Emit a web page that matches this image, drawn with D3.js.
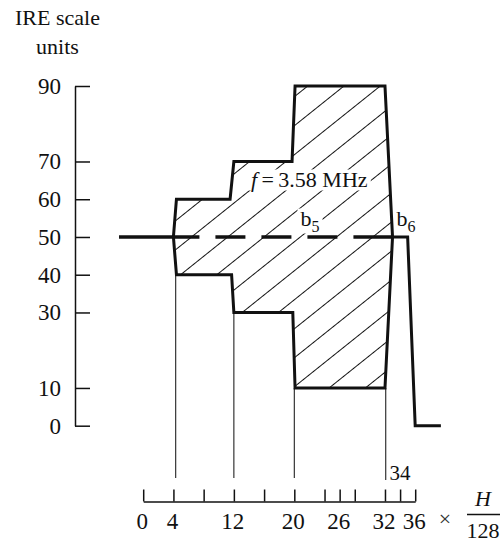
<!DOCTYPE html>
<html>
<head>
<meta charset="utf-8">
<script src="https://cdn.jsdelivr.net/npm/d3@7"></script>
<style>
  html, body { margin: 0; padding: 0; background: #fff; }
  svg { display: block; font-family: "Liberation Serif", "Times New Roman", serif; }
</style>
</head>
<body>
<svg id="chart" width="503" height="543"></svg>
<script>
// Horizontal position in units of H/128, vertical level in IRE units
const xTicks = [0, 4, 8, 12, 16, 20, 24, 26, 28, 32, 34, 36];
const xLabelled = [0, 4, 12, 20, 26, 32, 36];
const yTicks = [0, 10, 30, 40, 50, 60, 70, 90];

// Envelope of the 3.58 MHz chroma bars (outline, clockwise from the left apex)
const envX = [4, 4.4, 11.5, 12, 19.7, 20.1, 32, 33, 32, 20.1, 19.8, 12, 11.7, 4.4];
const envY = [50, 60, 60, 70, 70, 90, 90, 50, 10, 10, 30, 30, 40, 40];

// Luminance trace: 50 IRE level entering the bars, step b6, then drop to 0
const leadX = [-3.2, 4];
const leadY = [50, 50];
const tailX = [33, 35, 36, 39.4];
const tailY = [50, 50, 0, 0];

// Dashed 50 IRE reference (b5) across the bars
const refX = [4, 33];
const refY = [50, 50];

// Vertical guides at bar boundaries, hanging from the envelope's lower edge
const guideX = [4.3, 12, 20, 32.1];
const guideY = [40, 30, 10, 10];

const svg = d3.select("#chart");
const ink = "#111";

const x = d3.scaleLinear().domain([0, 36]).range([143.2, 415.2]);
const y = d3.scaleLinear().domain([0, 90]).range([425.7, 86]);

const line = d3.line().x(d => x(d[0])).y(d => y(d[1]));
const pts = (xs, ys) => xs.map((v, i) => [v, ys[i]]);

// Diagonal hatch fill
const defs = svg.append("defs");
const hatchW = 22.65;
defs.append("pattern")
  .attr("id", "hatch")
  .attr("patternUnits", "userSpaceOnUse")
  .attr("width", hatchW)
  .attr("height", 10)
  .attr("patternTransform", `translate(309,85) rotate(51.34) translate(${-hatchW / 2},0)`)
  .append("line")
  .attr("x1", hatchW / 2).attr("x2", hatchW / 2)
  .attr("y1", -1).attr("y2", 11)
  .attr("stroke", ink).attr("stroke-width", 1);

const envPts = pts(envX, envY);

svg.append("path")
  .attr("d", line(envPts) + "Z")
  .attr("fill", "url(#hatch)")
  .attr("stroke", "none");

// Vertical guides
const guideBottom = 478;
svg.append("g").selectAll("line")
  .data(guideX)
  .join("line")
  .attr("x1", d => x(d)).attr("x2", d => x(d))
  .attr("y1", (d, i) => y(guideY[i]))
  .attr("y2", (d, i) => guideBottom + (i === guideX.length - 1 ? 2 : 0))
  .attr("stroke", "#222").attr("stroke-width", 1.1);

// Labels inside the hatch, with a clear background
const fLabel = svg.append("text")
  .attr("x", 251).attr("y", 186.5)
  .attr("font-size", 22).attr("fill", ink);
fLabel.append("tspan").attr("font-style", "italic").text("f");
fLabel.append("tspan").text("\u2009=\u20093.58 MHz");

const b5 = svg.append("text")
  .attr("x", 300.5).attr("y", 225.5)
  .attr("font-size", 22).attr("fill", ink);
b5.append("tspan").text("b");
b5.append("tspan").attr("font-size", 16).attr("dy", 6).text("5");

[fLabel, b5].forEach(t => {
  const bb = t.node().getBBox();
  svg.insert("rect", "text")
    .attr("x", bb.x - 3).attr("y", bb.y + 3)
    .attr("width", bb.width + 6).attr("height", bb.height - 4)
    .attr("fill", "#fff");
});

// Dashed reference
svg.append("path")
  .attr("d", line(pts(refX, refY)))
  .attr("fill", "none").attr("stroke", ink).attr("stroke-width", 3.5)
  .attr("stroke-dasharray", "26,16,30,16,30,16,30,16,40");

// Envelope outline
svg.append("path")
  .attr("d", line(envPts) + "Z")
  .attr("fill", "none").attr("stroke", ink)
  .attr("stroke-width", 3).attr("stroke-linejoin", "miter");

// Luminance trace
svg.append("path")
  .attr("d", line(pts(leadX, leadY)))
  .attr("fill", "none").attr("stroke", ink).attr("stroke-width", 3.5);
svg.append("path")
  .attr("d", line(pts(tailX, tailY)))
  .attr("fill", "none").attr("stroke", ink).attr("stroke-width", 3);

const b6 = svg.append("text")
  .attr("x", 396.5).attr("y", 225.5)
  .attr("font-size", 22).attr("fill", ink);
b6.append("tspan").text("b");
b6.append("tspan").attr("font-size", 16).attr("dy", 6).text("6");

// Y axis
const yAxis = svg.append("g")
  .attr("transform", "translate(75,0)")
  .call(d3.axisLeft(y).tickValues(yTicks).tickSizeInner(-15).tickSizeOuter(0).tickPadding(14));
yAxis.select(".domain").attr("stroke", ink).attr("stroke-width", 1.5);
yAxis.selectAll(".tick line").attr("stroke", ink).attr("stroke-width", 1.5);
yAxis.selectAll(".tick text")
  .attr("font-size", 23).attr("font-family", "Liberation Serif").attr("fill", ink);

// X axis
const xAxis = svg.append("g")
  .attr("transform", "translate(0,501.5)")
  .call(d3.axisBottom(x).tickValues(xTicks).tickSizeInner(-12).tickSizeOuter(0).tickPadding(11.5)
    .tickFormat(d => xLabelled.includes(d) ? d : ""));
xAxis.select(".domain").attr("stroke", ink).attr("stroke-width", 1.5);
xAxis.selectAll(".tick line").attr("stroke", ink).attr("stroke-width", 1.5);
xAxis.selectAll(".tick text")
  .attr("font-size", 23).attr("font-family", "Liberation Serif").attr("fill", ink)
  .attr("dx", -1.5);

// Label for the 34 tick, set above the axis
svg.append("text")
  .attr("x", x(34)).attr("y", 480)
  .attr("text-anchor", "middle")
  .attr("font-size", 21).attr("fill", ink)
  .text(34);

// Axis titles
svg.append("text")
  .attr("x", 57.5).attr("y", 25).attr("text-anchor", "middle")
  .attr("font-size", 22).attr("fill", ink).text("IRE scale");
svg.append("text")
  .attr("x", 57.5).attr("y", 54).attr("text-anchor", "middle")
  .attr("font-size", 22).attr("fill", ink).text("units");

svg.append("text")
  .attr("x", 445).attr("y", 525.5).attr("text-anchor", "middle")
  .attr("font-size", 22).attr("fill", "#333").text("\u00d7");
svg.append("text")
  .attr("x", 483).attr("y", 506).attr("text-anchor", "middle")
  .attr("font-size", 22).attr("font-style", "italic").attr("fill", ink).text("H");
svg.append("line")
  .attr("x1", 467).attr("x2", 500).attr("y1", 514.5).attr("y2", 514.5)
  .attr("stroke", ink).attr("stroke-width", 1.5);
svg.append("text")
  .attr("x", 483).attr("y", 537.5).attr("text-anchor", "middle")
  .attr("font-size", 22).attr("fill", ink).text("128");
</script>
</body>
</html>
